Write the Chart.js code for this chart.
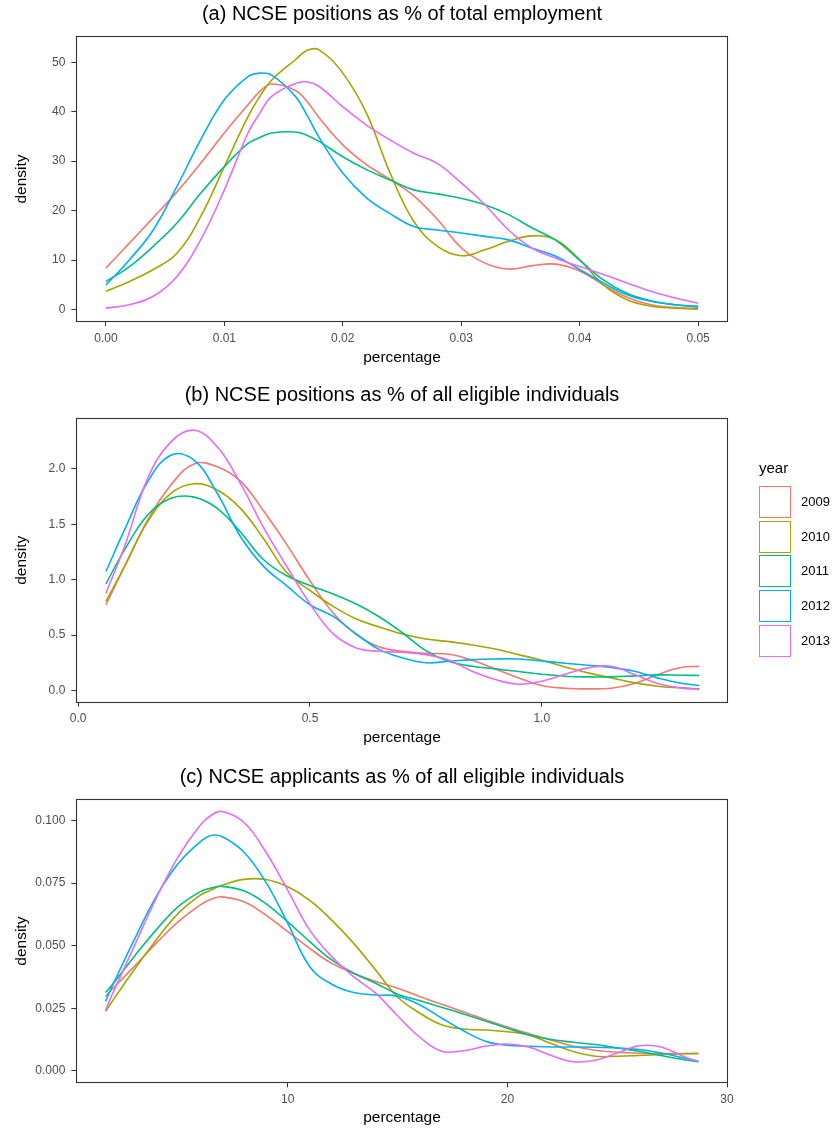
<!DOCTYPE html>
<html>
<head>
<meta charset="utf-8">
<script src="https://cdn.jsdelivr.net/npm/chart.js@4/dist/chart.umd.min.js"></script>
<style>
html,body{margin:0;padding:0;background:#fff;}
#wrap{position:relative;width:833px;height:1130px;font-family:"Liberation Sans",Arial,sans-serif;overflow:hidden;}
canvas{position:absolute;left:0;}
#legTitle{position:absolute;left:759px;top:459px;font-size:15px;line-height:18px;color:#000;}
.key{position:absolute;left:759px;height:32px;width:70px;}
.box{position:absolute;left:0;top:0;width:32px;height:32px;box-sizing:border-box;border:1.8px solid;background:#fff;}
.lab{position:absolute;left:42px;top:0;line-height:32px;font-size:13px;color:#000;}
</style>
</head>
<body>
<div id="wrap">
  <canvas id="ca" width="833" height="375" style="top:0px"></canvas>
  <canvas id="cb" width="833" height="380" style="top:375px"></canvas>
  <canvas id="cc" width="833" height="375" style="top:755px"></canvas>
  <div id="legTitle">year</div>
  <div id="legend"></div>
</div>
<script>
// ---------- data ----------
const years = ['2009', '2010', '2011', '2012', '2013'];
const colors = ['#F8766D', '#A3A500', '#00BF7D', '#00B0F6', '#E76BF3'];

// (a) NCSE positions as % of total employment
const aTitle = '(a) NCSE positions as % of total employment';
const aX = [0, 0.002, 0.004, 0.006, 0.008, 0.010, 0.012, 0.013, 0.014, 0.016, 0.017, 0.018, 0.020, 0.022, 0.024, 0.026, 0.028, 0.030, 0.032, 0.034, 0.036, 0.038, 0.040, 0.042, 0.044, 0.046, 0.048, 0.050];
const a2009 = [8.4, 13.5, 18.6, 23.8, 29.6, 35.7, 41.4, 44.1, 45.6, 44.3, 42.0, 38.8, 33.3, 29.3, 26.3, 23.0, 18.2, 12.5, 9.4, 8.2, 8.9, 9.2, 7.8, 5.0, 2.5, 1.0, 0.4, 0.2];
const a2010 = [3.7, 5.7, 8.1, 11.4, 18.8, 28.9, 39.0, 43.1, 46.4, 50.5, 52.4, 52.5, 47.8, 39.7, 27.6, 17.8, 12.8, 10.9, 12.1, 13.8, 14.9, 14.1, 10.1, 5.0, 2.0, 0.7, 0.3, 0.1];
const a2011 = [5.7, 8.7, 12.8, 17.5, 23.5, 28.9, 33.6, 34.8, 35.7, 35.9, 35.2, 34.0, 30.9, 28.3, 26.2, 24.2, 23.4, 22.5, 21.2, 19.2, 16.5, 14.0, 10.0, 6.0, 3.3, 1.8, 1.0, 0.5];
const a2012 = [5.0, 10.1, 16.1, 24.9, 34.3, 42.4, 47.1, 47.8, 47.4, 43.1, 39.2, 34.8, 27.6, 22.6, 19.4, 16.8, 16.1, 15.5, 14.8, 14.1, 12.4, 10.8, 8.1, 5.4, 3.0, 1.7, 1.0, 0.7];
const a2013 = [0.3, 1.0, 2.7, 6.7, 14.1, 24.2, 35.7, 39.7, 43.1, 45.7, 46.0, 45.1, 41.0, 37.3, 34.3, 31.6, 29.5, 25.6, 21.2, 16.1, 12.4, 10.4, 8.7, 7.1, 5.4, 3.7, 2.4, 1.3];
const aXTicks = [0, 0.01, 0.02, 0.03, 0.04, 0.05];
const aXTickLabels = ['0.00', '0.01', '0.02', '0.03', '0.04', '0.05'];
const aYTicks = [0, 10, 20, 30, 40, 50];
const aYTickLabels = ['0', '10', '20', '30', '40', '50'];

// (b) NCSE positions as % of all eligible individuals
const bTitle = '(b) NCSE positions as % of all eligible individuals';
const bX = [0.06, 0.10, 0.15, 0.20, 0.25, 0.30, 0.35, 0.40, 0.45, 0.50, 0.55, 0.60, 0.65, 0.70, 0.75, 0.80, 0.85, 0.90, 0.95, 1.00, 1.05, 1.10, 1.15, 1.20, 1.25, 1.30, 1.34];
const b2009 = [0.774, 1.119, 1.539, 1.854, 2.045, 2.020, 1.890, 1.620, 1.317, 0.990, 0.699, 0.504, 0.393, 0.354, 0.335, 0.327, 0.273, 0.195, 0.114, 0.045, 0.021, 0.015, 0.021, 0.063, 0.144, 0.207, 0.219];
const b2010 = [0.804, 1.119, 1.524, 1.779, 1.866, 1.809, 1.644, 1.370, 1.065, 0.903, 0.759, 0.645, 0.573, 0.510, 0.465, 0.441, 0.411, 0.375, 0.324, 0.273, 0.213, 0.159, 0.114, 0.069, 0.039, 0.024, 0.015];
const b2011 = [0.963, 1.269, 1.584, 1.734, 1.745, 1.644, 1.430, 1.180, 1.035, 0.948, 0.870, 0.780, 0.663, 0.519, 0.360, 0.261, 0.219, 0.195, 0.171, 0.147, 0.129, 0.123, 0.123, 0.132, 0.141, 0.138, 0.135];
const b2012 = [1.074, 1.449, 1.884, 2.124, 2.079, 1.780, 1.390, 1.120, 0.945, 0.774, 0.669, 0.510, 0.369, 0.294, 0.250, 0.264, 0.279, 0.285, 0.285, 0.267, 0.246, 0.228, 0.207, 0.174, 0.114, 0.066, 0.045];
const b2013 = [0.879, 1.299, 1.914, 2.244, 2.349, 2.199, 1.869, 1.470, 1.119, 0.783, 0.513, 0.384, 0.354, 0.345, 0.324, 0.273, 0.174, 0.099, 0.057, 0.084, 0.147, 0.204, 0.219, 0.144, 0.063, 0.024, 0.009];
const bXTicks = [0, 0.5, 1.0];
const bXTickLabels = ['0.0', '0.5', '1.0'];
const bYTicks = [0, 0.5, 1.0, 1.5, 2.0];
const bYTickLabels = ['0.0', '0.5', '1.0', '1.5', '2.0'];

// (c) NCSE applicants as % of all eligible individuals
const cTitle = '(c) NCSE applicants as % of all eligible individuals';
const cX = [1.7, 2, 3, 4, 5, 6, 6.5, 7, 8, 9, 10, 11, 12, 13, 14, 15, 16, 17, 18, 19, 20, 21, 22, 23, 24, 25, 26, 27, 28, 28.7];
const c2009 = [0.0297, 0.0326, 0.0416, 0.0509, 0.0595, 0.0662, 0.0685, 0.0695, 0.0675, 0.0622, 0.0556, 0.0489, 0.0429, 0.0390, 0.0357, 0.0330, 0.0297, 0.0266, 0.0235, 0.0204, 0.0175, 0.0148, 0.0122, 0.0098, 0.0082, 0.0074, 0.0070, 0.0069, 0.0069, 0.0069];
const c2010 = [0.0237, 0.0277, 0.0403, 0.0522, 0.0628, 0.0701, 0.0722, 0.0741, 0.0765, 0.0764, 0.0735, 0.0681, 0.0602, 0.0509, 0.0403, 0.0295, 0.0231, 0.0184, 0.0167, 0.0163, 0.0156, 0.0142, 0.0109, 0.0077, 0.0058, 0.0058, 0.0061, 0.0065, 0.0068, 0.0069];
const c2011 = [0.0313, 0.0343, 0.0456, 0.0562, 0.0655, 0.0715, 0.0730, 0.0737, 0.0719, 0.0668, 0.0595, 0.0516, 0.0443, 0.0390, 0.0350, 0.0306, 0.0281, 0.0254, 0.0227, 0.0199, 0.0170, 0.0143, 0.0125, 0.0114, 0.0105, 0.0091, 0.0078, 0.0061, 0.0045, 0.0036];
const c2012 = [0.0277, 0.0337, 0.0522, 0.0695, 0.0827, 0.0914, 0.0940, 0.0936, 0.0874, 0.0754, 0.0589, 0.0416, 0.0346, 0.0313, 0.0303, 0.0298, 0.0264, 0.0211, 0.0160, 0.0118, 0.0102, 0.0098, 0.0095, 0.0095, 0.0094, 0.0091, 0.0085, 0.0071, 0.0052, 0.0038];
const c2013 = [0.0241, 0.0304, 0.0496, 0.0688, 0.0854, 0.0980, 0.1020, 0.1036, 0.0993, 0.0874, 0.0721, 0.0562, 0.0456, 0.0376, 0.0310, 0.0220, 0.0135, 0.0078, 0.0080, 0.0098, 0.0107, 0.0094, 0.0061, 0.0036, 0.0042, 0.0071, 0.0100, 0.0095, 0.0058, 0.0036];
const cXTicks = [10, 20, 30];
const cXTickLabels = ['10', '20', '30'];
const cYTicks = [0, 0.025, 0.05, 0.075, 0.1];
const cYTickLabels = ['0.000', '0.025', '0.050', '0.075', '0.100'];

const xAxisTitle = 'percentage';
const yAxisTitle = 'density';

// ---------- rendering ----------
const FAM = '"Liberation Sans", Arial, sans-serif';
Chart.defaults.font.family = FAM;

const decoPlugin = {
  id: 'panelDeco',
  afterDraw(chart, args, opts) {
    const ctx = chart.ctx, a = chart.chartArea;
    ctx.save();
    ctx.strokeStyle = '#333333';
    ctx.lineWidth = 1.1;
    const l = Math.round(a.left) + 0.5, t = Math.round(a.top) + 0.5;
    const r = Math.round(a.right) - 0.5, b = Math.round(a.bottom) - 0.5;
    ctx.strokeRect(l, t, r - l, b - t);
    ctx.fillStyle = '#000';
    ctx.font = '20px ' + FAM;
    ctx.textAlign = 'center';
    ctx.textBaseline = 'middle';
    ctx.fillText(opts.text, (a.left + a.right) / 2, opts.y);
    ctx.restore();
  }
};

function labelFor(v, ticks, labels) {
  for (let i = 0; i < ticks.length; i++) {
    if (Math.abs(ticks[i] - v) < 1e-9) return labels[i];
  }
  return '';
}

function makePanel(id, p) {
  const series = p.series;
  const datasets = years.map((yr, i) => ({
    label: yr,
    data: p.x.map((xv, j) => ({x: xv, y: series[i][j]})),
    borderColor: colors[i],
    backgroundColor: colors[i],
    borderWidth: 1.6,
    pointRadius: 0,
    fill: false,
    tension: 0.4,
    order: years.length - i
  }));
  const gridOpts = (len) => ({display: true, drawOnChartArea: false, drawTicks: true, tickLength: len, tickColor: '#333333', tickWidth: 1});
  new Chart(document.getElementById(id), {
    type: 'line',
    data: {datasets},
    plugins: [decoPlugin],
    options: {
      responsive: false,
      animation: false,
      devicePixelRatio: 1,
      layout: {padding: {top: p.padTop, right: 105.3, bottom: p.padBottom, left: 0}},
      plugins: {
        legend: {display: false},
        tooltip: {enabled: false},
        title: {display: false},
        panelDeco: {text: p.title, y: p.titleY}
      },
      scales: {
        x: {
          type: 'linear', min: p.xMin, max: p.xMax,
          afterBuildTicks: s => { s.ticks = p.xTicks.map(v => ({value: v})); },
          afterFit: s => { s.height = p.xH; },
          ticks: {callback: v => labelFor(v, p.xTicks, p.xTickLabels), color: '#4D4D4D', font: {size: 12, family: FAM}, padding: 5, autoSkip: false, maxRotation: 0, minRotation: 0},
          grid: gridOpts(4),
          border: {display: false},
          title: {display: true, text: xAxisTitle, color: '#000', font: {size: 15.5, family: FAM}, padding: {top: 0, bottom: 0}}
        },
        y: {
          type: 'linear', min: p.yMin, max: p.yMax,
          afterBuildTicks: s => { s.ticks = p.yTicks.map(v => ({value: v})); },
          afterFit: s => { s.width = 76.3; },
          ticks: {callback: v => labelFor(v, p.yTicks, p.yTickLabels), color: '#4D4D4D', font: {size: 12, family: FAM}, padding: 6, autoSkip: false},
          grid: gridOpts(5),
          border: {display: false},
          title: {display: true, text: yAxisTitle, color: '#000', font: {size: 15.5, family: FAM}, padding: {top: 12, bottom: 0}}
        }
      }
    }
  });
}

makePanel('ca', {
  title: aTitle, titleY: 14, padTop: 36, padBottom: 7.7, xH: 45.3,
  x: aX, series: [a2009, a2010, a2011, a2012, a2013],
  xMin: -0.0025, xMax: 0.0525, yMin: -2.5, yMax: 55.3,
  xTicks: aXTicks, xTickLabels: aXTickLabels, yTicks: aYTicks, yTickLabels: aYTickLabels
});
makePanel('cb', {
  title: bTitle, titleY: 20, padTop: 42.7, padBottom: 7.7, xH: 44.6,
  x: bX, series: [b2009, b2010, b2011, b2012, b2013],
  xMin: -0.004, xMax: 1.401, yMin: -0.11, yMax: 2.462,
  xTicks: bXTicks, xTickLabels: bXTickLabels, yTicks: bYTicks, yTickLabels: bYTickLabels
});
makePanel('cc', {
  title: cTitle, titleY: 22, padTop: 44, padBottom: 2.7, xH: 44,
  x: cX, series: [c2009, c2010, c2011, c2012, c2013],
  xMin: 0.37, xMax: 30.03, yMin: -0.005, yMax: 0.1086,
  xTicks: cXTicks, xTickLabels: cXTickLabels, yTicks: cYTicks, yTickLabels: cYTickLabels
});

// legend (panel b)
const leg = document.getElementById('legend');
years.forEach((yr, i) => {
  const row = document.createElement('div');
  row.className = 'key';
  row.style.top = (486 + i * 34.7) + 'px';
  const box = document.createElement('span');
  box.className = 'box';
  box.style.borderColor = colors[i];
  const lab = document.createElement('span');
  lab.className = 'lab';
  lab.textContent = yr;
  row.appendChild(box);
  row.appendChild(lab);
  leg.appendChild(row);
});
</script>
</body>
</html>
